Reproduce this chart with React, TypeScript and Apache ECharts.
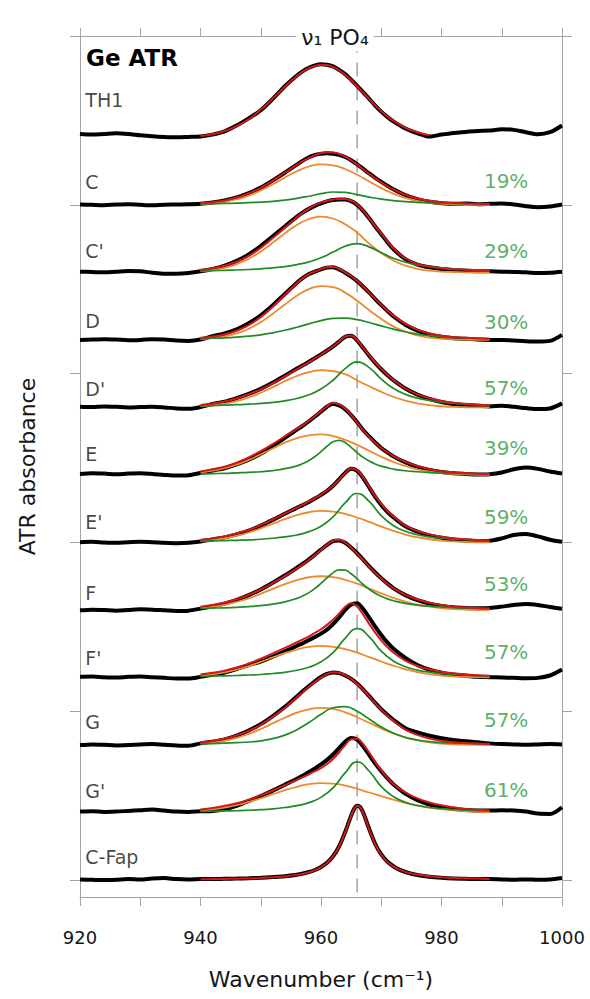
import React, { useEffect, useRef } from 'react';
import * as echarts from 'echarts';

// ---------- x grids (cm-1) ----------
const wnObs = [920, 922, 924, 926, 928, 930, 932, 934, 936, 938, 940, 942, 944, 946, 948, 950, 952, 954, 956,
  957, 958, 959, 960, 961, 962, 963, 964, 965, 966, 967, 968, 969, 970, 971, 972,
  974, 976, 978, 980, 982, 984, 986, 988, 990, 992, 994, 996, 998, 1000];
const wnFitFine = [940, 942, 944, 946, 948, 950, 952, 954, 956,
  957, 958, 959, 960, 961, 962, 963, 964, 965, 966, 967, 968, 969, 970, 971, 972,
  974, 976, 978, 980, 982, 984, 986, 988];
const wnFit = [940, 942, 944, 946, 948, 950, 952, 954, 956, 958, 960, 962, 964, 966, 968, 970, 972, 974, 976, 978, 980, 982, 984, 986, 988];
const wnFap = [920, 922, 924, 926, 928, 930, 932, 934, 936, 938, 940, 942, 944, 946, 948, 950, 952, 954, 956, 957, 958, 959, 960, 961, 962, 963, 964, 965, 965.5, 966, 966.5, 967, 968, 969, 970, 971, 972, 973, 974, 975, 976, 978, 980, 982, 984, 986, 988, 990, 992, 994, 996, 998, 1000];

// ---------- samples ----------
const sampleNames = ["TH1", "C", "C'", "D", "D'", "E", "E'", "F", "F'", "G", "G'", "C-Fap"];
const baselineOffsets = [4.4, 4.0, 3.6, 3.2, 2.8, 2.4, 2.0, 1.6, 1.2, 0.8, 0.4, 0.0];
const narrowShare = ["", "19%", "29%", "30%", "57%", "39%", "59%", "53%", "57%", "57%", "61%", ""];

// ---------- TH1 ----------
const th1Obs = [0.020, 0.016, 0.020, 0.024, 0.020, 0.012, 0.006, 0.002, 0.000, 0.002, 0.005, 0.016, 0.035, 0.070, 0.112, 0.160, 0.228, 0.302, 0.366,
  0.392, 0.412, 0.426, 0.432, 0.430, 0.420, 0.399, 0.374, 0.341, 0.305, 0.266, 0.228, 0.188, 0.152, 0.121, 0.094,
  0.052, 0.024, 0.004, 0.016, 0.026, 0.032, 0.038, 0.040, 0.048, 0.044, 0.030, 0.018, 0.030, 0.070];
const th1Fit = [0.008, 0.018, 0.037, 0.066, 0.107, 0.163, 0.229, 0.299, 0.363,
  0.389, 0.409, 0.423, 0.430, 0.428, 0.417, 0.397, 0.371, 0.338, 0.302, 0.265, 0.226, 0.189, 0.155, 0.124, 0.098,
  0.056, 0.030, 0.012, null, null, null, null, null];

// ---------- C ----------
const cObs = [0.002, 0.000, -0.002, 0.002, 0.004, 0.000, -0.003, 0.001, 0.002, 0.003, 0.006, 0.014, 0.026, 0.044, 0.070, 0.102, 0.145, 0.190, 0.238,
  0.262, 0.282, 0.296, 0.302, 0.305, 0.303, 0.296, 0.283, 0.264, 0.240, 0.213, 0.186, 0.160, 0.136, 0.113, 0.092,
  0.058, 0.034, 0.018, 0.010, 0.006, 0.008, 0.004, 0.006, 0.008, 0.002, -0.008, -0.014, -0.010, 0.002];
const cFit = [0.010, 0.016, 0.026, 0.043, 0.068, 0.101, 0.143, 0.190, 0.237,
  0.259, 0.278, 0.294, 0.306, 0.312, 0.310, 0.302, 0.286, 0.264, 0.238, 0.211, 0.184, 0.157, 0.133, 0.111, 0.091,
  0.060, 0.038, 0.024, 0.015, 0.011, 0.008, 0.006, 0.005];
const cBroad = [0.004, 0.009, 0.018, 0.033, 0.055, 0.085, 0.122, 0.162, 0.199, 0.227, 0.240, 0.234, 0.212, 0.178, 0.138, 0.099, 0.066, 0.041, 0.023, 0.012, 0.006, 0.003, 0.001, 0.000, 0.000];
const cNarrow = [0.006, 0.007, 0.008, 0.010, 0.013, 0.016, 0.021, 0.028, 0.038, 0.051, 0.066, 0.076, 0.074, 0.060, 0.046, 0.034, 0.025, 0.019, 0.015, 0.012, 0.009, 0.008, 0.007, 0.006, 0.005];

// ---------- C' ----------
const cpObs = [0.004, 0.002, 0.000, 0.004, 0.008, 0.006, -0.002, -0.008, -0.008, -0.004, 0.006, 0.020, 0.040, 0.068, 0.106, 0.156, 0.214, 0.272, 0.330,
  0.355, 0.376, 0.394, 0.408, 0.420, 0.428, 0.432, 0.432, 0.422, 0.400, 0.364, 0.320, 0.272, 0.226, 0.180, 0.138,
  0.078, 0.046, 0.030, 0.020, 0.014, 0.010, 0.007, 0.006, 0.004, 0.002, 0.000, -0.004, -0.002, 0.004];
const cpFit = [0.016, 0.024, 0.039, 0.063, 0.098, 0.145, 0.203, 0.265, 0.327,
  0.354, 0.378, 0.398, 0.413, 0.424, 0.431, 0.435, 0.434, 0.424, 0.402, 0.366, 0.321, 0.274, 0.229, 0.184, 0.142,
  0.082, 0.050, 0.034, 0.024, 0.019, 0.016, 0.013, 0.012];
const cpBroad = [0.007, 0.014, 0.027, 0.049, 0.081, 0.124, 0.176, 0.231, 0.281, 0.316, 0.330, 0.319, 0.285, 0.236, 0.170, 0.115, 0.070, 0.040, 0.021, 0.010, 0.004, 0.002, 0.000, 0.000, 0.000];
const cpNarrow = [0.009, 0.010, 0.012, 0.014, 0.017, 0.021, 0.027, 0.034, 0.046, 0.062, 0.086, 0.120, 0.155, 0.170, 0.151, 0.116, 0.084, 0.060, 0.044, 0.034, 0.026, 0.021, 0.017, 0.014, 0.012];

// ---------- D ----------
const dObs = [0.000, 0.002, 0.004, 0.002, -0.002, 0.000, 0.004, 0.002, -0.004, -0.006, 0.002, 0.022, 0.038, 0.062, 0.098, 0.145, 0.205, 0.272, 0.338,
  0.367, 0.390, 0.404, 0.418, 0.428, 0.430, 0.418, 0.398, 0.375, 0.348, 0.315, 0.280, 0.242, 0.206, 0.172, 0.140,
  0.090, 0.055, 0.032, 0.018, 0.010, 0.006, 0.002, 0.000, 0.000, -0.004, -0.008, -0.010, -0.006, 0.030];
const dFit = [0.012, 0.020, 0.032, 0.054, 0.088, 0.135, 0.197, 0.267, 0.337,
  0.366, 0.390, 0.405, 0.420, 0.430, 0.432, 0.420, 0.400, 0.377, 0.350, 0.316, 0.280, 0.243, 0.207, 0.174, 0.144,
  0.096, 0.060, 0.038, 0.024, 0.017, 0.012, 0.009, 0.007];
const dBroad = [0.004, 0.010, 0.020, 0.038, 0.066, 0.105, 0.155, 0.210, 0.262, 0.301, 0.319, 0.312, 0.280, 0.232, 0.176, 0.124, 0.080, 0.048, 0.026, 0.013, 0.006, 0.003, 0.001, 0.000, 0.000];
const dNarrow = [0.008, 0.010, 0.012, 0.016, 0.022, 0.030, 0.042, 0.057, 0.075, 0.095, 0.114, 0.127, 0.129, 0.120, 0.103, 0.083, 0.064, 0.048, 0.034, 0.025, 0.018, 0.014, 0.011, 0.009, 0.007];

// ---------- D' ----------
const dpObs = [0.004, 0.002, 0.006, 0.004, 0.000, 0.002, 0.004, 0.000, -0.006, -0.008, 0.002, 0.020, 0.034, 0.055, 0.080, 0.110, 0.147, 0.188, 0.230,
  0.250, 0.270, 0.292, 0.314, 0.337, 0.362, 0.390, 0.418, 0.424, 0.396, 0.352, 0.306, 0.264, 0.226, 0.192, 0.162,
  0.112, 0.076, 0.050, 0.032, 0.020, 0.014, 0.010, 0.006, 0.010, 0.004, -0.004, -0.010, -0.006, 0.024];
const dpFit = [0.015, 0.023, 0.035, 0.053, 0.078, 0.107, 0.143, 0.184, 0.226,
  0.247, 0.268, 0.290, 0.312, 0.336, 0.362, 0.391, 0.420, 0.426, 0.398, 0.354, 0.308, 0.266, 0.228, 0.194, 0.163,
  0.112, 0.077, 0.054, 0.038, 0.027, 0.021, 0.016, 0.013];
const dpBroad = [0.006, 0.012, 0.022, 0.037, 0.059, 0.087, 0.120, 0.155, 0.186, 0.209, 0.220, 0.215, 0.197, 0.160, 0.125, 0.092, 0.063, 0.040, 0.024, 0.013, 0.007, 0.003, 0.001, 0.000, 0.000];
const dpNarrow = [0.009, 0.011, 0.013, 0.016, 0.019, 0.024, 0.030, 0.039, 0.053, 0.075, 0.109, 0.161, 0.230, 0.270, 0.236, 0.168, 0.113, 0.077, 0.055, 0.041, 0.031, 0.024, 0.020, 0.016, 0.013];

// ---------- E ----------
const eObs = [0.006, 0.010, 0.008, 0.004, 0.008, 0.010, 0.006, 0.000, -0.004, -0.002, 0.012, 0.026, 0.040, 0.062, 0.090, 0.125, 0.170, 0.220, 0.268,
  0.292, 0.318, 0.346, 0.375, 0.404, 0.422, 0.412, 0.390, 0.354, 0.312, 0.266, 0.228, 0.192, 0.160, 0.134, 0.110,
  0.074, 0.048, 0.030, 0.018, 0.010, 0.006, 0.002, 0.004, 0.014, 0.034, 0.044, 0.036, 0.020, 0.008];
const eFit = [0.020, 0.033, 0.049, 0.073, 0.104, 0.141, 0.183, 0.228, 0.272,
  0.296, 0.321, 0.348, 0.378, 0.407, 0.428, 0.418, 0.395, 0.355, 0.310, 0.264, 0.225, 0.190, 0.160, 0.135, 0.112,
  0.077, 0.052, 0.034, 0.022, 0.015, 0.011, 0.007, 0.006];
const eBroad = [0.014, 0.025, 0.040, 0.061, 0.089, 0.122, 0.157, 0.191, 0.218, 0.235, 0.240, 0.230, 0.208, 0.178, 0.143, 0.108, 0.077, 0.052, 0.033, 0.020, 0.011, 0.006, 0.003, 0.001, 0.001];
const eNarrow = [0.006, 0.008, 0.009, 0.012, 0.015, 0.019, 0.026, 0.037, 0.054,
  0.068, 0.086, 0.109, 0.138, 0.170, 0.196, 0.205, 0.192, 0.163, 0.132, 0.104, 0.082, 0.065, 0.052, 0.043, 0.035,
  0.025, 0.019, 0.014, 0.011, 0.009, 0.008, 0.006, 0.005];

// ---------- E' ----------
const epObs = [0.002, 0.004, 0.000, -0.002, 0.002, 0.004, 0.002, -0.002, -0.004, -0.002, 0.006, 0.018, 0.030, 0.048, 0.070, 0.100, 0.134, 0.170, 0.205,
  0.222, 0.240, 0.260, 0.282, 0.306, 0.336, 0.374, 0.412, 0.436, 0.424, 0.382, 0.326, 0.270, 0.222, 0.182, 0.150,
  0.096, 0.064, 0.042, 0.028, 0.018, 0.012, 0.008, 0.010, 0.024, 0.044, 0.050, 0.036, 0.016, 0.004];
const epFit = [0.016, 0.024, 0.036, 0.053, 0.074, 0.103, 0.136, 0.171, 0.206,
  0.224, 0.243, 0.262, 0.284, 0.308, 0.336, 0.372, 0.410, 0.438, 0.428, 0.385, 0.330, 0.275, 0.228, 0.188, 0.155,
  0.100, 0.068, 0.048, 0.034, 0.025, 0.019, 0.014, 0.012];
const epBroad = [0.008, 0.015, 0.025, 0.040, 0.059, 0.084, 0.111, 0.138, 0.162, 0.179, 0.187, 0.183, 0.170, 0.148, 0.122, 0.094, 0.069, 0.047, 0.031, 0.019, 0.011, 0.006, 0.003, 0.001, 0.001];
const epNarrow = [0.008, 0.009, 0.011, 0.013, 0.015, 0.019, 0.025, 0.033, 0.044, 0.064, 0.096, 0.152, 0.234, 0.290, 0.243, 0.159, 0.101, 0.066, 0.046, 0.033, 0.025, 0.020, 0.016, 0.013, 0.011];

// ---------- F ----------
const fObs = [-0.002, 0.002, 0.000, -0.004, 0.000, 0.004, 0.002, -0.002, -0.006, -0.004, 0.008, 0.022, 0.038, 0.060, 0.088, 0.122, 0.162, 0.204, 0.250,
  0.274, 0.300, 0.328, 0.358, 0.386, 0.408, 0.412, 0.398, 0.370, 0.336, 0.298, 0.258, 0.222, 0.188, 0.158, 0.130,
  0.088, 0.058, 0.038, 0.024, 0.016, 0.012, 0.010, 0.012, 0.020, 0.030, 0.036, 0.030, 0.018, 0.008];
const fFit = [0.020, 0.030, 0.044, 0.064, 0.089, 0.122, 0.160, 0.201, 0.246,
  0.270, 0.297, 0.326, 0.356, 0.386, 0.410, 0.416, 0.400, 0.370, 0.334, 0.295, 0.256, 0.220, 0.186, 0.156, 0.130,
  0.090, 0.062, 0.043, 0.029, 0.020, 0.015, 0.011, 0.009];
const fBroad = [0.011, 0.019, 0.031, 0.048, 0.069, 0.096, 0.125, 0.153, 0.177, 0.194, 0.200, 0.195, 0.179, 0.156, 0.127, 0.099, 0.072, 0.050, 0.032, 0.020, 0.011, 0.006, 0.003, 0.001, 0.001];
const fNarrow = [0.009, 0.011, 0.013, 0.016, 0.020, 0.026, 0.035, 0.048, 0.069,
  0.084, 0.103, 0.128, 0.158, 0.190, 0.220, 0.238, 0.236, 0.215, 0.184, 0.151, 0.123, 0.099, 0.081, 0.066, 0.055,
  0.039, 0.029, 0.023, 0.018, 0.014, 0.012, 0.010, 0.008];

// ---------- F' ----------
const fpObs = [0.004, 0.006, 0.002, 0.000, 0.004, 0.006, 0.002, -0.002, -0.006, -0.006, 0.004, 0.016, 0.030, 0.050, 0.074, 0.095, 0.124, 0.155, 0.188,
  0.204, 0.222, 0.240, 0.260, 0.284, 0.316, 0.356, 0.400, 0.432, 0.440, 0.405, 0.355, 0.302, 0.252, 0.208, 0.172,
  0.116, 0.074, 0.046, 0.028, 0.016, 0.010, 0.004, 0.002, 0.000, -0.002, -0.004, -0.002, 0.012, 0.048];
const fpFit = [0.018, 0.028, 0.041, 0.059, 0.083, 0.111, 0.143, 0.176, 0.209,
  0.226, 0.244, 0.264, 0.286, 0.312, 0.342, 0.378, 0.418, 0.440, 0.420, 0.372, 0.318, 0.266, 0.220, 0.180, 0.148,
  0.100, 0.068, 0.048, 0.034, 0.025, 0.019, 0.014, 0.011];
const fpBroad = [0.011, 0.019, 0.031, 0.047, 0.068, 0.093, 0.119, 0.145, 0.166, 0.181, 0.187, 0.182, 0.168, 0.147, 0.121, 0.095, 0.070, 0.049, 0.032, 0.020, 0.012, 0.007, 0.004, 0.002, 0.001];
const fpNarrow = [0.007, 0.009, 0.010, 0.012, 0.015, 0.018, 0.024, 0.031, 0.043, 0.061, 0.093, 0.148, 0.232, 0.290, 0.241, 0.156, 0.098, 0.064, 0.044, 0.032, 0.024, 0.019, 0.015, 0.012, 0.010];

// ---------- G ----------
const gObs = [0.000, 0.004, 0.002, -0.002, 0.000, 0.004, 0.006, 0.002, -0.002, -0.004, 0.010, 0.020, 0.034, 0.056, 0.086, 0.124, 0.172, 0.226, 0.288,
  0.320, 0.350, 0.378, 0.403, 0.421, 0.430, 0.426, 0.412, 0.392, 0.364, 0.328, 0.290, 0.250, 0.212, 0.180, 0.150,
  0.100, 0.075, 0.055, 0.040, 0.030, 0.022, 0.016, 0.010, 0.006, 0.004, 0.002, 0.004, 0.006, 0.004];
const gFit = [0.016, 0.024, 0.037, 0.057, 0.084, 0.120, 0.167, 0.221, 0.283,
  0.315, 0.346, 0.375, 0.400, 0.420, 0.431, 0.428, 0.414, 0.392, 0.362, 0.326, 0.288, 0.248, 0.210, 0.175, 0.145,
  0.092, 0.060, 0.038, 0.025, 0.017, 0.012, 0.009, 0.007];
const gBroad = [0.008, 0.015, 0.026, 0.043, 0.066, 0.095, 0.129, 0.162, 0.192, 0.212, 0.220, 0.214, 0.194, 0.165, 0.132, 0.099, 0.069, 0.045, 0.028, 0.016, 0.009, 0.004, 0.002, 0.001, 0.000];
const gNarrow = [0.008, 0.009, 0.011, 0.014, 0.018, 0.025, 0.038, 0.059, 0.091, 0.134, 0.182, 0.221, 0.228, 0.200, 0.154, 0.107, 0.071, 0.045, 0.030, 0.020, 0.015, 0.012, 0.010, 0.008, 0.007];

// ---------- G' ----------
const gpObs = [0.006, 0.008, 0.004, 0.006, 0.010, 0.014, 0.018, 0.012, 0.006, 0.004, 0.008, 0.010, 0.020, 0.040, 0.068, 0.098, 0.130, 0.165, 0.200,
  0.220, 0.240, 0.262, 0.285, 0.312, 0.344, 0.382, 0.420, 0.442, 0.432, 0.392, 0.342, 0.290, 0.245, 0.204, 0.168,
  0.112, 0.074, 0.048, 0.032, 0.022, 0.016, 0.012, 0.012, 0.014, 0.012, 0.006, -0.006, -0.008, 0.032];
const gpFit = [0.018, 0.027, 0.040, 0.055, 0.077, 0.102, 0.131, 0.163, 0.194,
  0.210, 0.227, 0.245, 0.264, 0.288, 0.318, 0.356, 0.400, 0.434, 0.438, 0.405, 0.355, 0.300, 0.250, 0.206, 0.170,
  0.119, 0.084, 0.060, 0.043, 0.031, 0.022, 0.017, 0.013];
const gpBroad = [0.011, 0.019, 0.030, 0.044, 0.063, 0.085, 0.109, 0.133, 0.153, 0.168, 0.174, 0.171, 0.160, 0.141, 0.119, 0.098, 0.077, 0.058, 0.042, 0.030, 0.020, 0.013, 0.008, 0.005, 0.003];
const gpNarrow = [0.007, 0.008, 0.010, 0.011, 0.014, 0.017, 0.022, 0.030, 0.041, 0.059, 0.090, 0.146, 0.235, 0.300, 0.245, 0.154, 0.095, 0.061, 0.042, 0.030, 0.023, 0.018, 0.014, 0.012, 0.010];

// ---------- C-Fap (on wnFap) ----------
const fapObs = [0.004, 0.002, 0.000, 0.002, 0.006, 0.004, 0.010, 0.012, 0.006, 0.004, 0.006, 0.006, 0.008, 0.009, 0.011, 0.014, 0.018, 0.023, 0.032,
  0.039, 0.048, 0.060, 0.078, 0.103, 0.141, 0.199, 0.283, 0.382,
  0.422, 0.440, 0.432,
  0.400, 0.303, 0.214, 0.152, 0.110, 0.082, 0.062, 0.048, 0.038,
  0.030, 0.020, 0.014, 0.010, 0.008, 0.006, 0.006, 0.004, 0.002, 0.004, 0.002, 0.004, 0.012];
const fapFit = [null, null, null, null, null, null, null, null, null, null,
  0.005, 0.006, 0.007, 0.008, 0.010, 0.013, 0.017, 0.022, 0.031,
  0.038, 0.047, 0.059, 0.077, 0.102, 0.140, 0.198, 0.282, 0.381,
  0.421, 0.440, 0.431,
  0.399, 0.301, 0.212, 0.150, 0.108, 0.081, 0.062, 0.049, 0.040,
  0.033, 0.023, 0.017, 0.013, 0.011, 0.009, 0.007,
  null, null, null, null, null, null];

type Spec = {
  obsX: number[]; obs: number[]; fitX: number[]; fit: (number | null)[];
  broadX?: number[]; broad?: number[]; narrowX?: number[]; narrow?: number[];
};

const spectra: Spec[] = [
  { obsX: wnObs, obs: th1Obs, fitX: wnFitFine, fit: th1Fit },
  { obsX: wnObs, obs: cObs, fitX: wnFitFine, fit: cFit, broadX: wnFit, broad: cBroad, narrowX: wnFit, narrow: cNarrow },
  { obsX: wnObs, obs: cpObs, fitX: wnFitFine, fit: cpFit, broadX: wnFit, broad: cpBroad, narrowX: wnFit, narrow: cpNarrow },
  { obsX: wnObs, obs: dObs, fitX: wnFitFine, fit: dFit, broadX: wnFit, broad: dBroad, narrowX: wnFit, narrow: dNarrow },
  { obsX: wnObs, obs: dpObs, fitX: wnFitFine, fit: dpFit, broadX: wnFit, broad: dpBroad, narrowX: wnFit, narrow: dpNarrow },
  { obsX: wnObs, obs: eObs, fitX: wnFitFine, fit: eFit, broadX: wnFit, broad: eBroad, narrowX: wnFitFine, narrow: eNarrow },
  { obsX: wnObs, obs: epObs, fitX: wnFitFine, fit: epFit, broadX: wnFit, broad: epBroad, narrowX: wnFit, narrow: epNarrow },
  { obsX: wnObs, obs: fObs, fitX: wnFitFine, fit: fFit, broadX: wnFit, broad: fBroad, narrowX: wnFitFine, narrow: fNarrow },
  { obsX: wnObs, obs: fpObs, fitX: wnFitFine, fit: fpFit, broadX: wnFit, broad: fpBroad, narrowX: wnFit, narrow: fpNarrow },
  { obsX: wnObs, obs: gObs, fitX: wnFitFine, fit: gFit, broadX: wnFit, broad: gBroad, narrowX: wnFit, narrow: gNarrow },
  { obsX: wnObs, obs: gpObs, fitX: wnFitFine, fit: gpFit, broadX: wnFit, broad: gpBroad, narrowX: wnFit, narrow: gpNarrow },
  { obsX: wnFap, obs: fapObs, fitX: wnFap, fit: fapFit },
];

// layout: text placement above each baseline (absorbance units)
const nameLift = [0.22, 0.136, 0.124, 0.113, 0.107, 0.124, 0.124, 0.100, 0.116, 0.136, 0.130, 0.136];
const shareLift = [0, 0.142, 0.124, 0.107, 0.113, 0.160, 0.148, 0.155, 0.150, 0.148, 0.136, 0];

const FONT = '"DejaVu Sans", "Liberation Sans", sans-serif';
const AXIS_GRAY = '#a4a4a4';
const TEXT = '#161616';

export default function App() {
  const ref = useRef<HTMLDivElement>(null);

  useEffect(() => {
    if (!ref.current) return;
    const chart = echarts.init(ref.current, null, { renderer: 'svg' });

    const pts = (xs: number[], ys: (number | null)[], off: number) => {
      const out: number[][] = [];
      xs.forEach((x, k) => {
        const v = ys[k];
        if (v !== null && v !== undefined) out.push([x, v + off]);
      });
      return out;
    };

    const series: any[] = [];
    series.push({
      type: 'line',
      data: [[966, 4.985], [966, -0.13]],
      symbol: 'none',
      silent: true,
      clip: false,
      z: 1,
      lineStyle: { color: '#a8a8a8', width: 1.6, type: [14, 10] },
    });

    spectra.forEach((s, i) => {
      const off = baselineOffsets[i];
      series.push({
        type: 'line', data: pts(s.obsX, s.obs, off), symbol: 'none', smooth: 0.3, silent: true, z: 2,
        lineStyle: { color: '#000000', width: 4 },
      });
    });
    spectra.forEach((s, i) => {
      const off = baselineOffsets[i];
      if (s.broad && s.broadX) {
        series.push({
          type: 'line', data: pts(s.broadX, s.broad, off), symbol: 'none', smooth: 0.5, silent: true, z: 3,
          lineStyle: { color: '#ec8a2c', width: 1.8 },
        });
      }
      if (s.narrow && s.narrowX) {
        series.push({
          type: 'line', data: pts(s.narrowX, s.narrow, off), symbol: 'none', smooth: 0.5, silent: true, z: 3,
          lineStyle: { color: '#1f8a26', width: 1.7 },
        });
      }
      series.push({
        type: 'line', data: pts(s.fitX, s.fit, off), symbol: 'none', smooth: 0.4, silent: true, z: 4,
        lineStyle: { color: '#d4171d', width: 2 },
      });
    });

    series.push({
      type: 'scatter',
      silent: true,
      symbolSize: 1,
      itemStyle: { color: 'rgba(0,0,0,0)' },
      z: 6,
      data: sampleNames.map((n, i) => ({ name: n, value: [920.8, baselineOffsets[i] + nameLift[i]] })),
      label: { show: true, position: 'right', distance: 0, formatter: '{b}', fontFamily: FONT, fontSize: 19, color: TEXT },
    });
    series.push({
      type: 'scatter',
      silent: true,
      symbolSize: 1,
      itemStyle: { color: 'rgba(0,0,0,0)' },
      z: 6,
      data: narrowShare
        .map((p, i) => ({ name: p, value: [994.5, baselineOffsets[i] + shareLift[i]] }))
        .filter((d) => d.name !== ''),
      label: { show: true, position: 'left', distance: 0, formatter: '{b}', fontFamily: FONT, fontSize: 20, color: '#2f9a3c' },
    });

    const tickStyle = { color: AXIS_GRAY, width: 1 };

    chart.setOption({
      animation: false,
      backgroundColor: '#ffffff',
      grid: { left: 80, right: 28, top: 36, bottom: 102, containLabel: false },
      xAxis: [
        {
          type: 'value', position: 'bottom', min: 920, max: 1000, interval: 20,
          axisLine: { show: true, onZero: false, lineStyle: tickStyle },
          axisTick: { show: true, inside: false, length: 9, lineStyle: tickStyle },
          minorTick: { show: true, splitNumber: 2, length: 9, lineStyle: tickStyle },
          splitLine: { show: false }, minorSplitLine: { show: false },
          axisLabel: { show: true, margin: 31, fontFamily: FONT, fontSize: 18, color: TEXT, formatter: (v: number) => String(v) },
          name: 'Wavenumber (cm⁻¹)', nameLocation: 'middle', nameGap: 71,
          nameTextStyle: { fontFamily: FONT, fontSize: 22, color: TEXT },
        },
        {
          type: 'value', position: 'top', min: 920, max: 1000, interval: 20,
          axisLine: { show: true, onZero: false, lineStyle: tickStyle },
          axisTick: { show: true, inside: false, length: 8, lineStyle: tickStyle },
          minorTick: { show: true, splitNumber: 2, length: 8, lineStyle: tickStyle },
          splitLine: { show: false }, minorSplitLine: { show: false },
          axisLabel: { show: false },
        },
      ],
      yAxis: [
        {
          type: 'value', position: 'left', min: -0.1, max: 5,
          axisLine: { show: true, onZero: false, lineStyle: tickStyle },
          axisTick: { show: true, inside: false, length: 10, lineStyle: tickStyle, customValues: [0, 1, 2, 3, 4, 5] },
          axisLabel: { show: false },
          splitLine: { show: false },
          name: 'ATR absorbance', nameLocation: 'middle', nameGap: 42,
          nameTextStyle: { fontFamily: FONT, fontSize: 22, color: TEXT },
        },
        {
          type: 'value', position: 'right', min: -0.1, max: 5,
          axisLine: { show: true, onZero: false, lineStyle: tickStyle },
          axisTick: { show: true, inside: false, length: 10, lineStyle: tickStyle, customValues: [0, 1, 2, 3, 4, 5] },
          axisLabel: { show: false },
          splitLine: { show: false },
        },
      ],
      graphic: [
        {
          type: 'text', x: 86, y: 58, z: 100, silent: true,
          style: { text: 'Ge ATR', fontFamily: FONT, fontSize: 23, fontWeight: 'bold', fill: '#000', align: 'left', verticalAlign: 'middle' },
        },
        {
          type: 'text', x: 335, y: 37, z: 100, silent: true,
          style: {
            text: 'ν₁ PO₄', fontFamily: FONT, fontSize: 22, fill: TEXT, align: 'center', verticalAlign: 'middle',
            backgroundColor: '#ffffff', padding: [3, 5, 3, 5],
          },
        },
      ],
      series,
    });

    return () => chart.dispose();
  }, []);

  return <div ref={ref} style={{ position: 'absolute', left: 0, top: 0, width: 590, height: 999 }} />;
}
